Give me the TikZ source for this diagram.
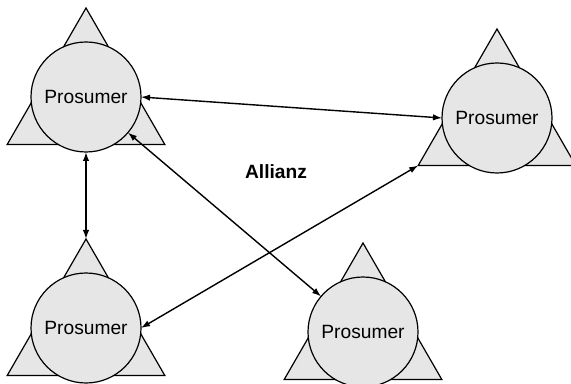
\documentclass[tikz,border=0pt]{standalone}
\usepackage{fontspec}
\setsansfont{Liberation Sans}
\usetikzlibrary{shapes.geometric, arrows.meta}
\definecolor{agentGray}{RGB}{230, 230, 230}
\tikzset{
    % Triangle behind each agent
    agentBase/.style={
        regular polygon,
        regular polygon sides=3,
        minimum size=91pt,
        inner sep=0pt,
        outer sep=0pt,
        fill=agentGray,
        draw=black,
        line width=0.6pt
    },
    % Circle carrying the label
    agentCore/.style={
        circle,
        minimum size=55pt,
        inner sep=0pt,
        outer sep=0pt,
        fill=agentGray,
        draw=black,
        line width=0.6pt,
        font=\sffamily\fontsize{9.6}{11}\selectfont
    },
    % Two-way links
    link/.style={{Latex[length=4.5pt,width=3.2pt]}-{Latex[length=4.5pt,width=3.2pt]}, line width=0.7pt}
}

\begin{document}
\begin{tikzpicture}[x=0.5pt, y=-0.5pt]

    \useasboundingbox (0,0) rectangle (571,384);

    % --- Agents ---
    \node (tri1) [agentBase] at (86,99) {};
    \node (pro1) [agentCore] at (86,97) {Prosumer};

    \node (tri2) [agentBase] at (497,120) {};
    \node (pro2) [agentCore] at (497,118) {Prosumer};

    \node (tri3) [agentBase] at (86,330) {};
    \node (pro3) [agentCore] at (86,328) {Prosumer};

    \node (tri4) [agentBase] at (363,334) {};
    \node (pro4) [agentCore] at (363,332) {Prosumer};

    % --- Label ---
    \node (title) at (276,172) {\sffamily\bfseries\fontsize{9.6}{11}\selectfont Allianz};

    % --- Links ---
    \draw [link] (pro1.east) -- (pro2.west);
    \draw [link] (pro1.south) -- (tri3.corner 1);
    \draw [link] (pro1) -- (pro4);
    \draw [link] (pro3.east) -- (tri2.corner 2);

\end{tikzpicture}
\end{document}
